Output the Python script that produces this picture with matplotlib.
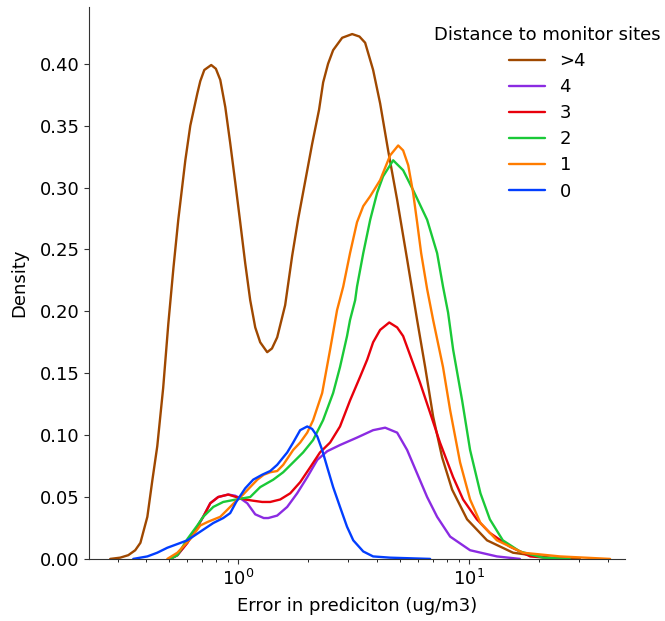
import matplotlib
matplotlib.use("Agg")
import matplotlib.pyplot as plt
from matplotlib.ticker import FormatStrFormatter

# KDE curves: (error, density) per distance group
x_gt4 = [0.279, 0.308, 0.334, 0.358, 0.377, 0.404, 0.425, 0.446, 0.473, 0.498,
         0.524, 0.550, 0.590, 0.620, 0.665, 0.685, 0.713, 0.764, 0.800, 0.836,
         0.879, 0.923, 0.971, 1.02, 1.072, 1.127, 1.185, 1.245, 1.335, 1.40,
         1.475, 1.597, 1.713, 1.82, 1.95, 2.089, 2.24, 2.333, 2.45, 2.577,
         2.82, 3.116, 3.35, 3.546, 3.840, 4.118, 4.460, 4.880, 5.390, 5.955,
         6.452, 6.987, 7.643, 8.442, 9.80, 11.96, 15.5, 22.4, 30.2]
y_gt4 = [0.000, 0.001, 0.003, 0.007, 0.013, 0.034, 0.064, 0.091, 0.138, 0.190,
         0.235, 0.274, 0.322, 0.350, 0.376, 0.386, 0.395, 0.399, 0.396, 0.387,
         0.365, 0.336, 0.304, 0.272, 0.239, 0.209, 0.187, 0.175, 0.167, 0.170,
         0.179, 0.205, 0.245, 0.275, 0.305, 0.335, 0.363, 0.385, 0.400, 0.411,
         0.421, 0.424, 0.422, 0.417, 0.395, 0.368, 0.330, 0.290, 0.242, 0.193,
         0.155, 0.115, 0.082, 0.056, 0.032, 0.015, 0.005, 0.001, 0.000]

x_4 = [0.508, 0.545, 0.602, 0.665, 0.705, 0.757, 0.819, 0.905, 0.971, 1.02,
       1.094, 1.185, 1.29, 1.349, 1.475, 1.63, 1.80, 1.99, 2.20, 2.43,
       2.76, 3.27, 3.84, 4.33, 4.88, 5.39, 5.955, 6.58, 7.27, 8.28,
       10.1, 13.2, 16.6]
y_4 = [0.000, 0.003, 0.013, 0.026, 0.034, 0.045, 0.050, 0.052, 0.051, 0.049,
       0.045, 0.036, 0.033, 0.033, 0.035, 0.042, 0.053, 0.066, 0.080, 0.087,
       0.092, 0.098, 0.104, 0.106, 0.102, 0.088, 0.069, 0.050, 0.034, 0.018,
       0.007, 0.002, 0.000]

x_3 = [0.508, 0.545, 0.602, 0.665, 0.705, 0.757, 0.819, 0.905, 0.980, 1.072,
       1.161, 1.27, 1.376, 1.520, 1.68, 1.855, 2.05, 2.26, 2.50, 2.76,
       3.05, 3.37, 3.62, 3.84, 4.118, 4.51, 4.88, 5.18, 5.72, 6.14,
       6.78, 7.48, 8.53, 9.42, 10.8, 12.3, 15.0, 18.4, 24.8]
y_3 = [0.000, 0.003, 0.013, 0.026, 0.034, 0.045, 0.050, 0.052, 0.050, 0.048,
       0.047, 0.046, 0.046, 0.048, 0.053, 0.062, 0.074, 0.086, 0.094, 0.107,
       0.128, 0.147, 0.161, 0.175, 0.185, 0.191, 0.187, 0.180, 0.158, 0.142,
       0.118, 0.094, 0.066, 0.048, 0.032, 0.021, 0.010, 0.002, 0.000]

x_2 = [0.508, 0.545, 0.602, 0.665, 0.705, 0.780, 0.861, 0.980, 1.127, 1.245,
       1.418, 1.566, 1.730, 1.91, 2.11, 2.33, 2.577, 2.76, 2.96, 3.05,
       3.21, 3.27, 3.48, 3.73, 4.00, 4.24, 4.69, 5.18, 5.72, 6.58,
       7.27, 7.71, 8.11, 8.53, 9.33, 10.1, 11.2, 12.3, 14.0, 16.6,
       20.9, 27.3]
y_2 = [0.000, 0.003, 0.016, 0.027, 0.034, 0.042, 0.046, 0.048, 0.050, 0.058,
       0.064, 0.070, 0.078, 0.086, 0.096, 0.112, 0.134, 0.155, 0.180, 0.193,
       0.209, 0.220, 0.247, 0.274, 0.296, 0.309, 0.322, 0.314, 0.298, 0.274,
       0.247, 0.220, 0.199, 0.169, 0.128, 0.088, 0.053, 0.032, 0.015, 0.006,
       0.001, 0.000]

x_1 = [0.493, 0.545, 0.620, 0.685, 0.740, 0.836, 0.923, 0.980, 1.05, 1.127,
       1.21, 1.29, 1.376, 1.475, 1.566, 1.730, 1.855, 1.99, 2.11, 2.31,
       2.50, 2.68, 2.85, 3.05, 3.27, 3.48, 3.73, 4.118, 4.55, 4.93,
       5.18, 5.45, 5.72, 5.955, 6.20, 6.58, 6.987, 7.71, 8.28, 9.14,
       10.1, 11.2, 13.2, 17.1, 24.8, 40.8]
y_1 = [0.000, 0.005, 0.016, 0.027, 0.030, 0.034, 0.042, 0.047, 0.052, 0.058,
       0.064, 0.068, 0.070, 0.071, 0.076, 0.088, 0.094, 0.102, 0.112, 0.134,
       0.169, 0.201, 0.220, 0.247, 0.272, 0.285, 0.293, 0.306, 0.326, 0.334,
       0.330, 0.318, 0.296, 0.272, 0.247, 0.218, 0.193, 0.155, 0.120, 0.078,
       0.048, 0.029, 0.015, 0.005, 0.002, 0.000]

x_0 = [0.351, 0.404, 0.446, 0.493, 0.545, 0.602, 0.685, 0.780, 0.861, 0.923,
       0.980, 1.072, 1.161, 1.27, 1.376, 1.475, 1.63, 1.73, 1.855, 1.99,
       2.09, 2.20, 2.31, 2.43, 2.577, 2.76, 2.96, 3.15, 3.48, 3.84,
       4.55, 6.78]
y_0 = [0.000, 0.002, 0.005, 0.009, 0.012, 0.015, 0.022, 0.029, 0.033, 0.037,
       0.046, 0.057, 0.064, 0.068, 0.071, 0.076, 0.086, 0.094, 0.104, 0.107,
       0.105, 0.099, 0.088, 0.074, 0.058, 0.042, 0.026, 0.015, 0.006, 0.002,
       0.001, 0.000]

labels = [">4", "4", "3", "2", "1", "0"]
series = [(x_gt4, y_gt4), (x_4, y_4), (x_3, y_3), (x_2, y_2), (x_1, y_1), (x_0, y_0)]
colors = ["#9f4800", "#8b2be2", "#e8000b", "#1ac938", "#ff7c00", "#023eff"]

plt.rcParams["font.family"] = "DejaVu Sans"
plt.rcParams["font.size"] = 13

fig = plt.figure(figsize=(6.65, 6.21), dpi=100)
ax = fig.add_axes([0.134, 0.100, 0.806, 0.889])

for (xs, ys), lab, c in zip(series, labels, colors):
    ax.plot(xs, ys, color=c, lw=1.7, label=lab,
            solid_joinstyle="round", solid_capstyle="round")

ax.set_xscale("log")
ax.set_xlim(0.226, 47.4)
ax.set_ylim(0, 0.446)
ax.yaxis.set_major_formatter(FormatStrFormatter("%.2f"))
ax.set_xlabel("Error in prediciton (ug/m3)", labelpad=6)
ax.set_ylabel("Density", labelpad=8)
for s in ("top", "right"):
    ax.spines[s].set_visible(False)
for s in ("left", "bottom"):
    ax.spines[s].set_color("#333333")
ax.tick_params(colors="#333333", labelcolor="black")

ax.legend(title="Distance to monitor sites", frameon=False, loc="upper right",
          bbox_to_anchor=(1.097, 0.995), title_fontsize=13, fontsize=13,
          labelspacing=0.45)

fig.savefig("out.png", dpi=100)
